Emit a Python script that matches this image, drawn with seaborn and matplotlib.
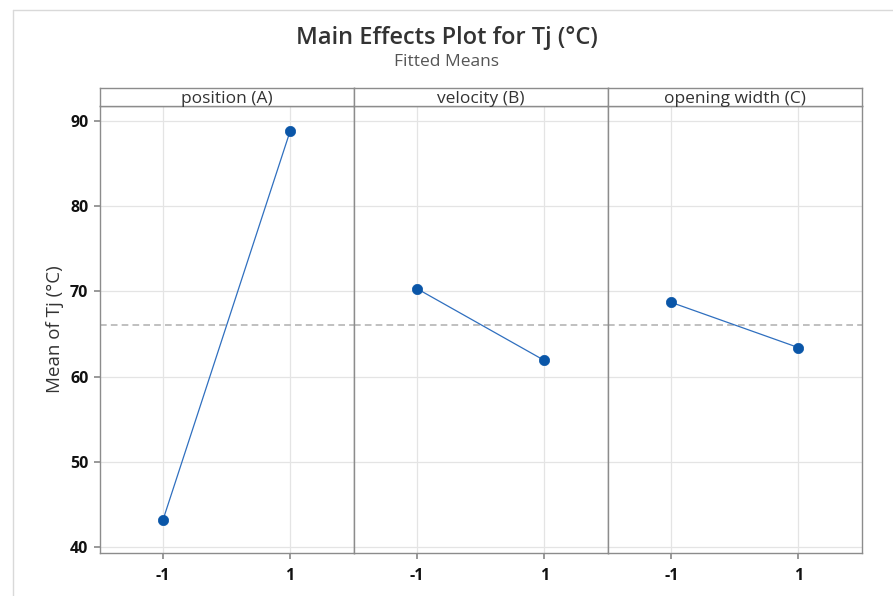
import matplotlib
matplotlib.use("Agg")
import matplotlib.pyplot as plt
import seaborn as sns
import pandas as pd
from matplotlib.lines import Line2D

# Factor names and coded levels
factors = ["position (A)", "velocity (B)", "opening width (C)"]
levels = [-1, 1]
# Fitted means of Tj (°C) at each level
means_a = [43.2, 88.8]
means_b = [70.3, 61.9]
means_c = [68.7, 63.4]
grand_mean = 66.0

y_ticks = [40, 50, 60, 70, 80, 90]

rows = []
for name, vals in zip(factors, [means_a, means_b, means_c]):
    for lv, v in zip(levels, vals):
        rows.append({"factor": name, "level": lv, "mean": v})
df = pd.DataFrame(rows)

sns.set_theme(style="white")
plt.rcParams["font.family"] = ["Open Sans", "DejaVu Sans"]

W, H = 893, 596
fig = plt.figure(figsize=(W / 100, H / 100), dpi=100)

left, right = 99.5 / W, 862 / W
bottom, top = 1 - 553 / H, 1 - 106 / H
strip_h = 18 / H
pw = (right - left) / 3

spine_col = "#8c8c8c"
grid_col = "#e4e4e4"
point_col = "#0a56a8"
line_col = "#2f6fbf"

axes = []
for i, name in enumerate(factors):
    ax = fig.add_axes([left + i * pw, bottom, pw, top - bottom],
                      sharey=axes[0] if axes else None)
    axes.append(ax)
    sub = df[df["factor"] == name]
    ax.axhline(grand_mean, color="#b5b5b5", lw=1.2, ls=(0, (4, 2.5)), zorder=1)
    sns.lineplot(data=sub, x="level", y="mean", ax=ax, color=line_col,
                 lw=0.9, zorder=3)
    sns.scatterplot(data=sub, x="level", y="mean", ax=ax, color=point_col,
                    s=55, edgecolor=point_col, linewidth=0.5, zorder=4)
    ax.set_xlim(-2, 2)
    ax.set_ylim(39.3, 91.75)
    ax.set_xticks(levels)
    ax.set_xticklabels([str(l) for l in levels])
    ax.set_yticks(y_ticks)
    ax.grid(True, color=grid_col, lw=0.9)
    ax.set_axisbelow(True)
    ax.set_xlabel("")
    ax.set_ylabel("")
    for s in ax.spines.values():
        s.set_color(spine_col)
        s.set_linewidth(1.0)
    ax.tick_params(axis="x", length=4, color=spine_col, labelsize=11.5,
                   labelcolor="#111111", pad=7, bottom=True)
    for t in ax.get_xticklabels():
        t.set_fontweight("bold")
    if i == 0:
        ax.tick_params(axis="y", length=4, color=spine_col, labelsize=11.5,
                       labelcolor="#111111", pad=4, left=True)
        for t in ax.get_yticklabels():
            t.set_fontweight("bold")
    else:
        ax.tick_params(axis="y", left=False, labelleft=False)

    # strip header above the panel
    sx = fig.add_axes([left + i * pw, top, pw, strip_h])
    sx.set_xticks([])
    sx.set_yticks([])
    for s in sx.spines.values():
        s.set_color(spine_col)
        s.set_linewidth(1.0)
    sx.text(0.5, 0.4, name, ha="center", va="center", fontsize=12.5,
            color="#333333", transform=sx.transAxes)

axes[0].set_ylabel("Mean of Tj (°C)", fontsize=13.5, color="#333333", labelpad=4)

fig.text(0.5, 1 - 38 / H, "Main Effects Plot for Tj (°C)", ha="center",
         va="center", fontsize=17, fontweight="semibold", color="#333333")
fig.text(0.5, 1 - 62 / H, "Fitted Means", ha="center", va="center",
         fontsize=12.5, color="#555555")

# light outer frame
fig.add_artist(Line2D([12.5 / W, 1], [1 - 9.5 / H, 1 - 9.5 / H],
                      transform=fig.transFigure, color="#d9d9d9", lw=1))
fig.add_artist(Line2D([12.5 / W, 12.5 / W], [0, 1 - 9.5 / H],
                      transform=fig.transFigure, color="#d9d9d9", lw=1))

fig.savefig("out.png", dpi=100)
